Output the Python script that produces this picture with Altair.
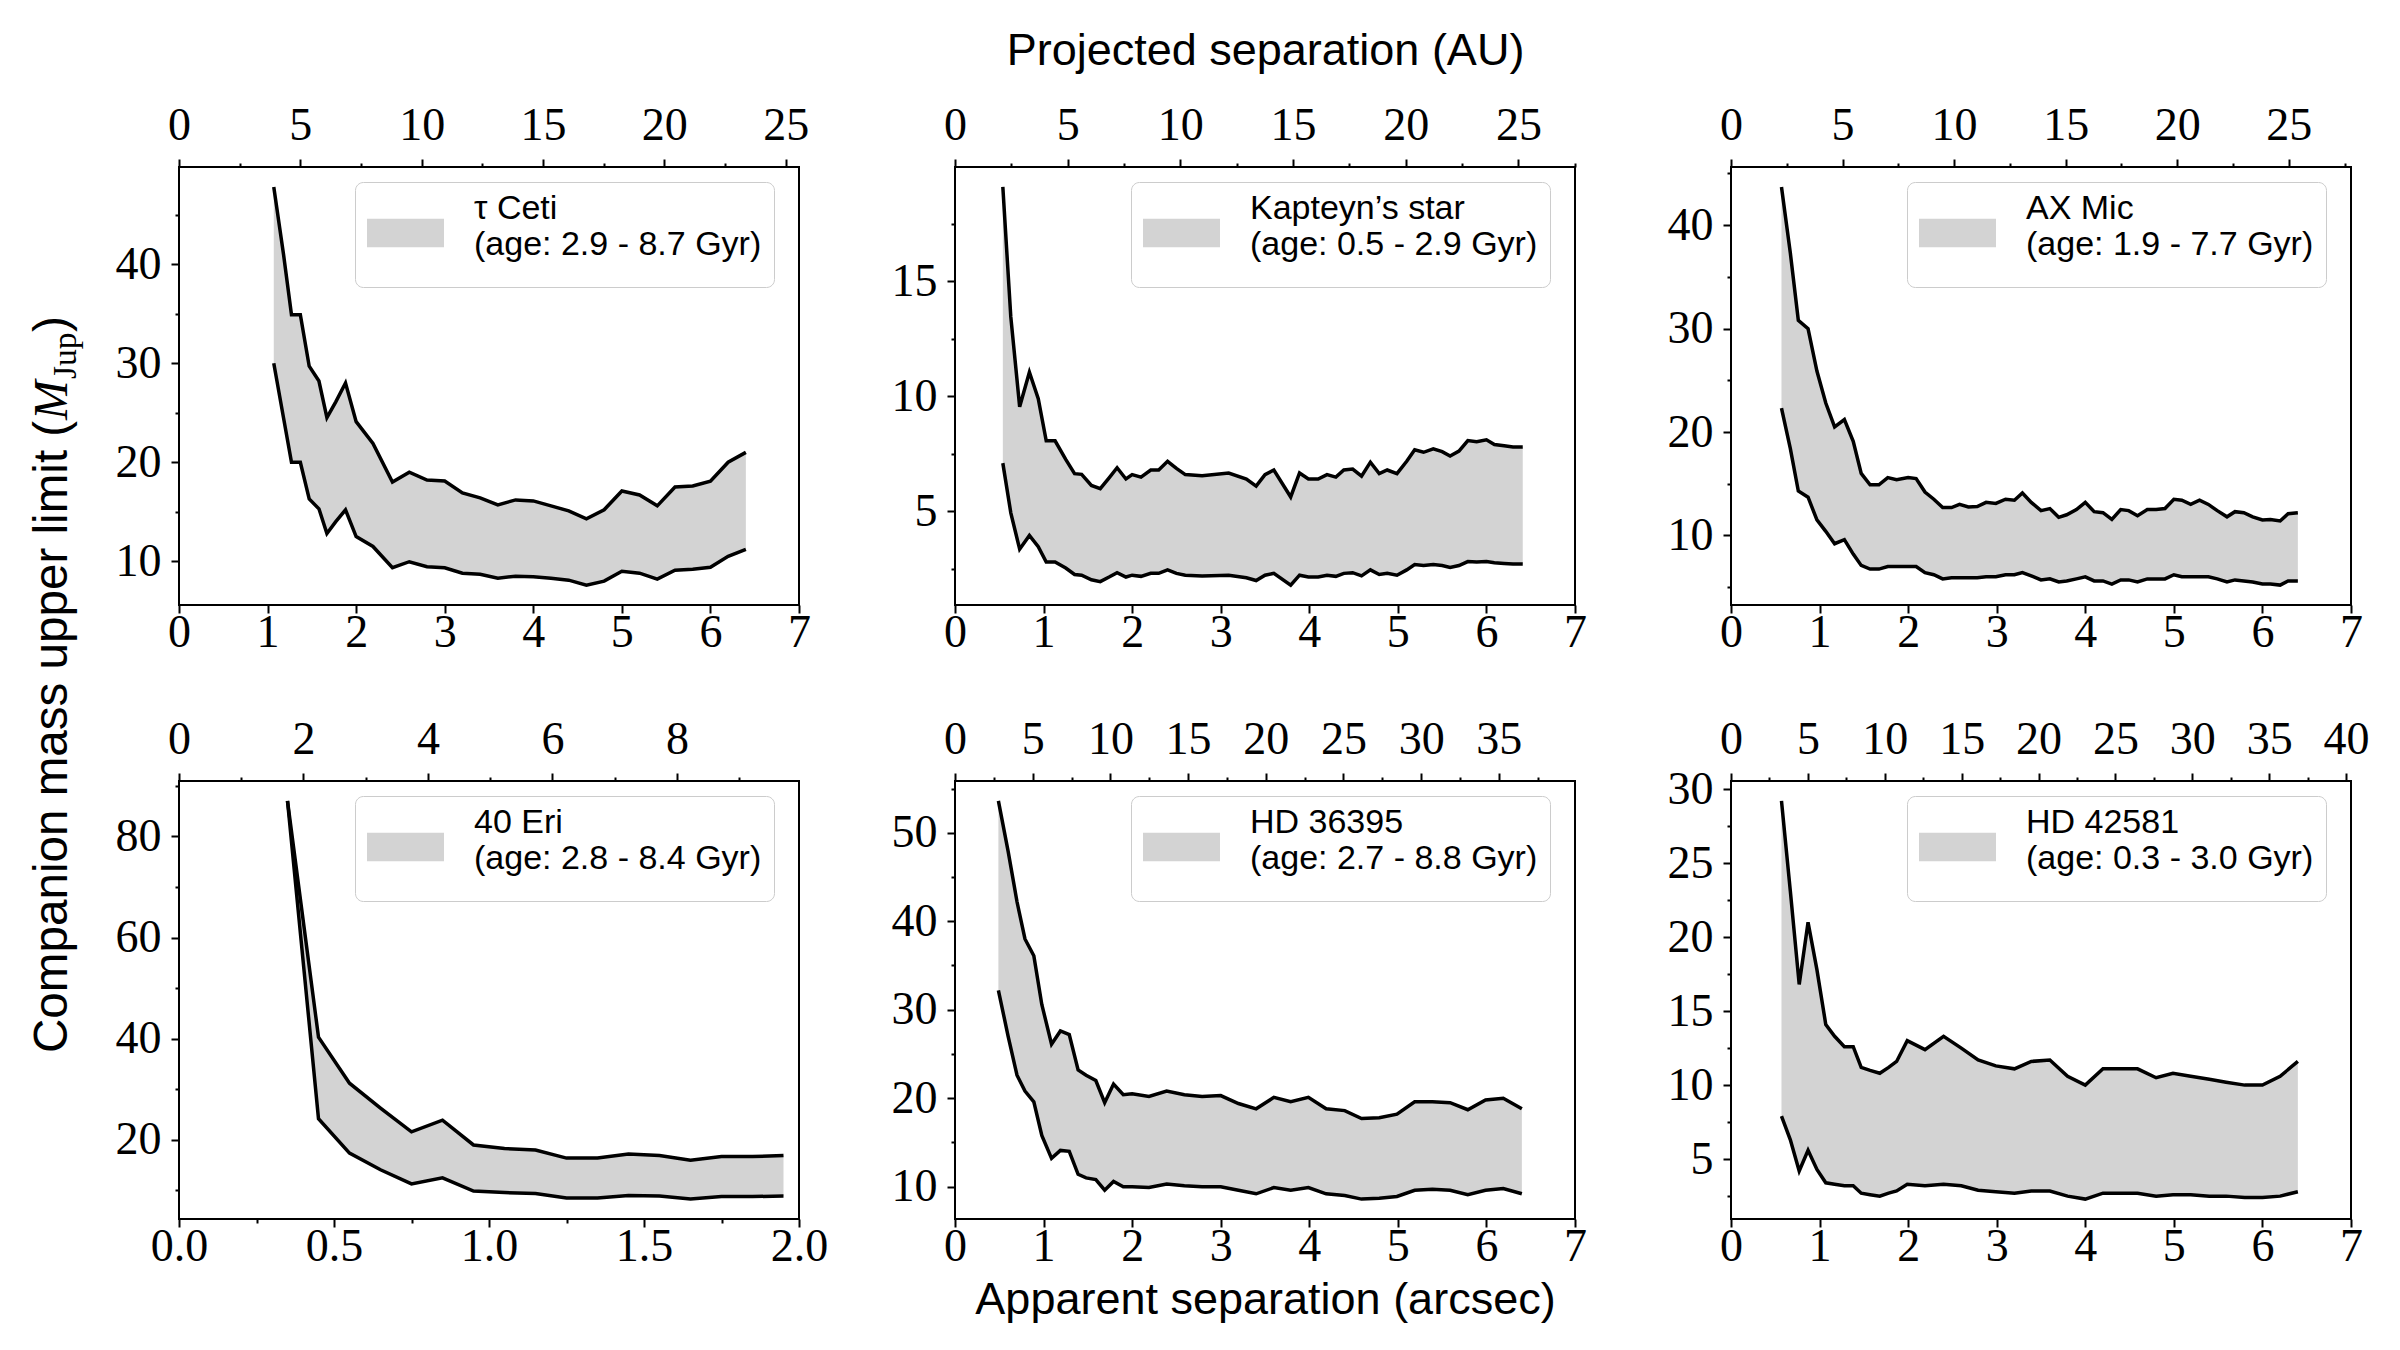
import math
import altair as alt
import pandas as pd

# ---------------- data ----------------
# tau Ceti
tau_sep = [1.07, 1.18, 1.27, 1.37, 1.47, 1.58, 1.67, 1.77, 1.88, 2.0, 2.19, 2.41, 2.6, 2.8, 3.0, 3.2,
           3.4, 3.6, 3.8, 4.0, 4.2, 4.4, 4.6, 4.8, 5.0, 5.2, 5.4, 5.6, 5.8, 6.0, 6.2, 6.4]
tau_upper = [47.8, 41.0, 34.9, 34.9, 29.7, 28.2, 24.5, 26.1, 28.0, 24.1, 21.9, 18.0, 19.0, 18.2, 18.1, 16.9,
             16.4, 15.7, 16.2, 16.1, 15.6, 15.1, 14.3, 15.2, 17.1, 16.7, 15.6, 17.5, 17.6, 18.1, 20.0, 21.0]
tau_lower = [30.0, 24.5, 20.0, 20.0, 16.3, 15.3, 12.8, 14.0, 15.2, 12.5, 11.5, 9.35, 9.96, 9.46, 9.35, 8.8,
             8.7, 8.3, 8.5, 8.45, 8.3, 8.1, 7.6, 8.0, 9.0, 8.8, 8.2, 9.1, 9.2, 9.4, 10.5, 11.2]

# Kapteyn's star
kap_sep = [0.54, 0.63, 0.73, 0.84, 0.94, 1.03, 1.13, 1.25, 1.35, 1.43, 1.54, 1.64, 1.74, 1.83, 1.93, 2.0,
           2.1, 2.21, 2.3, 2.4, 2.5, 2.6, 2.79, 3.09, 3.29, 3.4, 3.5, 3.6, 3.79, 3.89, 3.99, 4.1, 4.2, 4.3,
           4.39, 4.49, 4.59, 4.69, 4.79, 4.88, 4.99, 5.1, 5.19, 5.29, 5.4, 5.5, 5.59, 5.69, 5.79, 5.89, 6.0,
           6.09, 6.2, 6.3, 6.41]
kap_upper = [19.1, 13.45, 9.55, 11.05, 9.9, 8.07, 8.07, 7.26, 6.64, 6.61, 6.13, 5.99, 6.46, 6.9, 6.41, 6.6,
             6.49, 6.8, 6.8, 7.18, 6.87, 6.6, 6.55, 6.67, 6.41, 6.1, 6.6, 6.8, 5.63, 6.67, 6.41, 6.41, 6.6,
             6.49, 6.8, 6.84, 6.53, 7.14, 6.64, 6.8, 6.64, 7.18, 7.68, 7.57, 7.72, 7.6, 7.41, 7.62, 8.08,
             8.03, 8.11, 7.91, 7.85, 7.8, 7.8]
kap_lower = [7.1, 4.94, 3.36, 3.96, 3.47, 2.8, 2.8, 2.54, 2.26, 2.23, 2.03, 1.95, 2.15, 2.34, 2.15, 2.23,
             2.18, 2.31, 2.31, 2.46, 2.31, 2.23, 2.2, 2.23, 2.12, 2.0, 2.23, 2.31, 1.8, 2.23, 2.15, 2.15,
             2.23, 2.18, 2.31, 2.34, 2.2, 2.46, 2.26, 2.31, 2.23, 2.46, 2.69, 2.65, 2.69, 2.65, 2.57, 2.65,
             2.82, 2.8, 2.82, 2.77, 2.74, 2.72, 2.72]

# AX Mic
ax_sep = [0.57, 0.67, 0.76, 0.87, 0.97, 1.07, 1.17, 1.28, 1.38, 1.47, 1.57, 1.67, 1.77, 1.87, 2.0, 2.09,
          2.19, 2.29, 2.39, 2.49, 2.58, 2.68, 2.78, 2.88, 2.99, 3.1, 3.2, 3.29, 3.39, 3.5, 3.6, 3.7, 3.79,
          3.9, 4.0, 4.1, 4.2, 4.3, 4.4, 4.49, 4.59, 4.7, 4.8, 4.9, 5.0, 5.09, 5.19, 5.29, 5.39, 5.49, 5.6,
          5.69, 5.79, 5.89, 6.0, 6.09, 6.2, 6.29, 6.4]
ax_upper = [43.7, 37.3, 30.8, 30.0, 25.9, 22.8, 20.5, 21.2, 19.1, 16.0, 14.9, 14.9, 15.6, 15.4, 15.6, 15.5,
            14.2, 13.5, 12.7, 12.7, 13.0, 12.75, 12.8, 13.2, 13.1, 13.5, 13.4, 14.1, 13.2, 12.4, 12.6, 11.75,
            12.0, 12.5, 13.2, 12.3, 12.2, 11.55, 12.5, 12.4, 11.9, 12.5, 12.5, 12.6, 13.5, 13.4, 13.0, 13.4,
            13.0, 12.4, 11.8, 12.3, 12.2, 11.8, 11.5, 11.55, 11.4, 12.1, 12.2]
ax_lower = [22.3, 18.4, 14.3, 13.7, 11.5, 10.4, 9.2, 9.6, 8.2, 7.1, 6.75, 6.75, 7.0, 7.0, 7.0, 7.0, 6.4,
            6.2, 5.8, 5.9, 5.9, 5.9, 5.9, 6.0, 6.0, 6.2, 6.2, 6.4, 6.1, 5.7, 5.8, 5.5, 5.6, 5.8, 6.0, 5.6,
            5.6, 5.3, 5.7, 5.7, 5.5, 5.8, 5.8, 5.8, 6.2, 6.0, 6.0, 6.0, 6.0, 5.8, 5.5, 5.7, 5.6, 5.5, 5.3,
            5.3, 5.2, 5.6, 5.6]

# 40 Eri
eri_sep = [0.35, 0.45, 0.55, 0.65, 0.75, 0.85, 0.95, 1.05, 1.15, 1.25, 1.35, 1.45, 1.55, 1.65, 1.75, 1.85, 1.95]
eri_upper = [87.0, 40.3, 31.2, 26.3, 21.6, 23.9, 19.0, 18.3, 18.0, 16.4, 16.4, 17.2, 16.9, 16.0, 16.7, 16.7, 16.9]
eri_lower = [87.0, 24.2, 17.4, 14.1, 11.3, 12.5, 9.9, 9.6, 9.4, 8.5, 8.5, 9.0, 8.9, 8.3, 8.8, 8.8, 8.9]

# HD 36395
hd36_sep = [0.49, 0.6, 0.7, 0.79, 0.89, 0.98, 1.09, 1.19, 1.29, 1.39, 1.48, 1.59, 1.69, 1.79, 1.9, 2.0,
            2.19, 2.39, 2.59, 2.79, 3.0, 3.2, 3.4, 3.6, 3.79, 3.99, 4.19, 4.4, 4.59, 4.79, 4.99, 5.19, 5.39,
            5.59, 5.79, 5.99, 6.19, 6.4]
hd36_upper = [53.6, 47.9, 42.2, 38.0, 36.1, 30.6, 26.1, 27.6, 27.2, 23.2, 22.6, 22.0, 19.5, 21.6, 20.4, 20.5,
              20.2, 20.8, 20.4, 20.2, 20.3, 19.4, 18.8, 20.1, 19.6, 20.1, 18.8, 18.6, 17.7, 17.8, 18.2, 19.6,
              19.6, 19.5, 18.7, 19.8, 20.0, 18.8]
hd36_lower = [32.2, 27.0, 22.6, 20.8, 19.6, 15.8, 13.2, 14.1, 14.0, 11.4, 11.0, 10.8, 9.6, 10.6, 10.0, 10.0,
              9.9, 10.3, 10.1, 10.0, 10.0, 9.6, 9.2, 9.9, 9.6, 9.9, 9.2, 9.0, 8.6, 8.7, 8.9, 9.6, 9.7, 9.6,
              9.1, 9.6, 9.8, 9.2]

# HD 42581
hd42_sep = [0.57, 0.67, 0.77, 0.87, 0.97, 1.07, 1.17, 1.28, 1.38, 1.47, 1.57, 1.68, 1.78, 1.87, 1.99, 2.19,
            2.4, 2.6, 2.79, 2.99, 3.2, 3.39, 3.6, 3.8, 4.0, 4.2, 4.4, 4.59, 4.8, 4.99, 5.19, 5.4, 5.59, 5.8,
            6.0, 6.2, 6.4]
hd42_upper = [29.2, 23.1, 16.8, 21.0, 17.8, 14.1, 13.3, 12.6, 12.6, 11.2, 11.0, 10.8, 11.2, 11.6, 13.0, 12.4,
              13.3, 12.5, 11.7, 11.3, 11.1, 11.6, 11.7, 10.6, 10.0, 11.1, 11.1, 11.1, 10.5, 10.8, 10.6, 10.4,
              10.2, 10.0, 10.0, 10.6, 11.6]
hd42_lower = [7.9, 6.3, 4.2, 5.6, 4.3, 3.4, 3.3, 3.2, 3.2, 2.7, 2.6, 2.5, 2.7, 2.85, 3.3, 3.2, 3.3, 3.2, 2.9,
              2.8, 2.7, 2.85, 2.85, 2.5, 2.3, 2.7, 2.7, 2.7, 2.5, 2.6, 2.6, 2.5, 2.5, 2.4, 2.4, 2.5, 2.8]

star_names = ["τ Ceti", "Kapteyn’s star", "AX Mic", "40 Eri", "HD 36395", "HD 42581"]
age_ranges = ["2.9 - 8.7", "0.5 - 2.9", "1.9 - 7.7", "2.8 - 8.4", "2.7 - 8.8", "0.3 - 3.0"]
distance_pc = [3.65, 3.93, 3.97, 4.98, 5.70, 5.76]
sep_limit = [7, 7, 7, 2, 7, 7]
sep_major = [1, 1, 1, 0.5, 1, 1]
sep_format = ["d", "d", "d", ".1f", "d", "d"]
au_major = [5, 5, 5, 2, 5, 5]
mass_major = [10, 5, 10, 20, 10, 5]

seps = [tau_sep, kap_sep, ax_sep, eri_sep, hd36_sep, hd42_sep]
uppers = [tau_upper, kap_upper, ax_upper, eri_upper, hd36_upper, hd42_upper]
lowers = [tau_lower, kap_lower, ax_lower, eri_lower, hd36_lower, hd42_lower]

# ---------------- styling ----------------
W, H = 620, 438
SERIF = "Liberation Serif"
SANS = "Liberation Sans"
FILL = "#d3d3d3"
LABEL_PAD = {"bottom": -3, "top": 10, "left": 10}
# legend swatch: 77 x 28.5 px rectangle drawn inside a 63 px legend row, sitting a bit low
# (second, zero-length sub-path only extends the legend frame downwards)
SWATCH_PATH = "M-1,-0.214H1.444V0.69H-1Z M0,1.54L0,1.54"
SWATCH_SIZE = 3969


def tick_values(lo, hi, major):
    minor = major / 2
    start = math.ceil(lo / minor - 1e-9)
    stop = math.floor(hi / minor + 1e-9)
    return [round(k * minor, 6) for k in range(start, stop + 1)]


def make_axis(orient, lo, hi, major, fmt, title=None, title_padding=8):
    return alt.Axis(
        orient=orient,
        values=tick_values(lo, hi, major),
        format=fmt,
        labelExpr=f"datum.value % {major} ? '' : datum.label",
        tickSize={"condition": {"test": f"datum.value % {major} !== 0", "value": 4}, "value": 8},
        labelPadding=LABEL_PAD[orient],
        labelFlush=False,
        labelOverlap=False,
        domain=False,
        grid=False,
        title=title,
        titlePadding=title_padding,
    )


def panel(i):
    df = pd.DataFrame({"sep": seps[i], "upper": uppers[i], "lower": lowers[i]})
    df["label"] = f"{star_names[i]}|(age: {age_ranges[i]} Gyr)"
    lo, hi = min(lowers[i]), max(uppers[i])
    pad = 0.05 * (hi - lo)
    ydom = [lo - pad, hi + pad]
    xs = alt.Scale(domain=[0, sep_limit[i]], nice=False, zero=False)
    ys = alt.Scale(domain=ydom, nice=False, zero=False)

    xtitle = "Apparent separation (arcsec)" if i == 4 else None
    xaxis = make_axis("bottom", 0, sep_limit[i], sep_major[i], sep_format[i], xtitle, 8)
    yaxis = make_axis("left", ydom[0], ydom[1], mass_major[i], "d")

    legend = alt.Legend(
        title=None, orient="none", legendX=176, legendY=15, padding=12,
        strokeColor="#cccccc", fillColor="rgba(255,255,255,0.8)", cornerRadius=8,
        symbolType=SWATCH_PATH, symbolSize=SWATCH_SIZE, symbolStrokeWidth=0,
        labelFont=SANS, labelFontSize=34, labelOffset=44, labelLimit=1000,
        labelBaseline="bottom",
        labelColor="black", labelExpr="split(datum.label, '|')",
    )

    base = alt.Chart(df)
    area = base.mark_area(opacity=1).encode(
        x=alt.X("sep:Q", scale=xs, axis=xaxis),
        y=alt.Y("lower:Q", scale=ys, axis=yaxis),
        y2="upper:Q",
        color=alt.Color("label:N", scale=alt.Scale(range=[FILL]), legend=legend),
    )
    line_up = base.mark_line(color="black", strokeWidth=3.5).encode(
        x=alt.X("sep:Q", scale=xs, axis=xaxis),
        y=alt.Y("upper:Q", scale=ys, axis=yaxis),
    )
    line_lo = base.mark_line(color="black", strokeWidth=3.5).encode(
        x=alt.X("sep:Q", scale=xs, axis=xaxis),
        y=alt.Y("lower:Q", scale=ys, axis=yaxis),
    )
    inner = alt.layer(area, line_up, line_lo)

    au_max = sep_limit[i] * distance_pc[i]
    ttitle = "Projected separation (AU)" if i == 1 else None
    au_axis = make_axis("top", 0, au_max, au_major[i], "d", ttitle, 29)
    au_df = pd.DataFrame({"au": [0, au_max]})
    au = alt.Chart(au_df).mark_point(opacity=0).encode(
        x=alt.X("au:Q", scale=alt.Scale(domain=[0, au_max], nice=False, zero=False), axis=au_axis)
    )

    layers = [inner, au]
    if i == 3:
        # shared y-axis title: "Companion mass upper limit (M_Jup)"
        parts = [
            ("Companion mass upper limit (", SANS, 47.6, "normal", -112, 272),
            ("M", SERIF, 47.6, "italic", -112, -361),
            ("Jup", SERIF, 33.5, "normal", -103, -402),
            (")", SANS, 47.6, "normal", -112, -449),
        ]
        for txt, font, fs, style, px, py in parts:
            layers.append(
                alt.Chart(pd.DataFrame({"t": [txt]})).mark_text(
                    angle=270, align="left", baseline="alphabetic",
                    font=font, fontSize=fs, fontStyle=style, color="black",
                ).encode(text="t:N", x=alt.value(px), y=alt.value(py))
            )
    return alt.layer(*layers).resolve_scale(x="independent").properties(width=W, height=H)


panels = [panel(i) for i in range(6)]

chart = (
    alt.concat(*panels, columns=3, spacing={"row": 176, "column": 156})
    .resolve_scale(color="independent")
    .resolve_legend(color="independent")
    .properties(bounds="flush", padding={"left": 27, "top": 27, "right": 10, "bottom": 10},
                background="white")
    .configure_view(stroke="black", strokeWidth=2)
    .configure_axis(
        labelFont=SERIF, labelFontSize=46, labelColor="black",
        tickColor="black", tickWidth=2,
        titleFont=SANS, titleFontSize=45, titleFontWeight="normal", titleColor="black",
    )
)

chart.save("out.html", embed_options={"renderer": "svg", "actions": False})
